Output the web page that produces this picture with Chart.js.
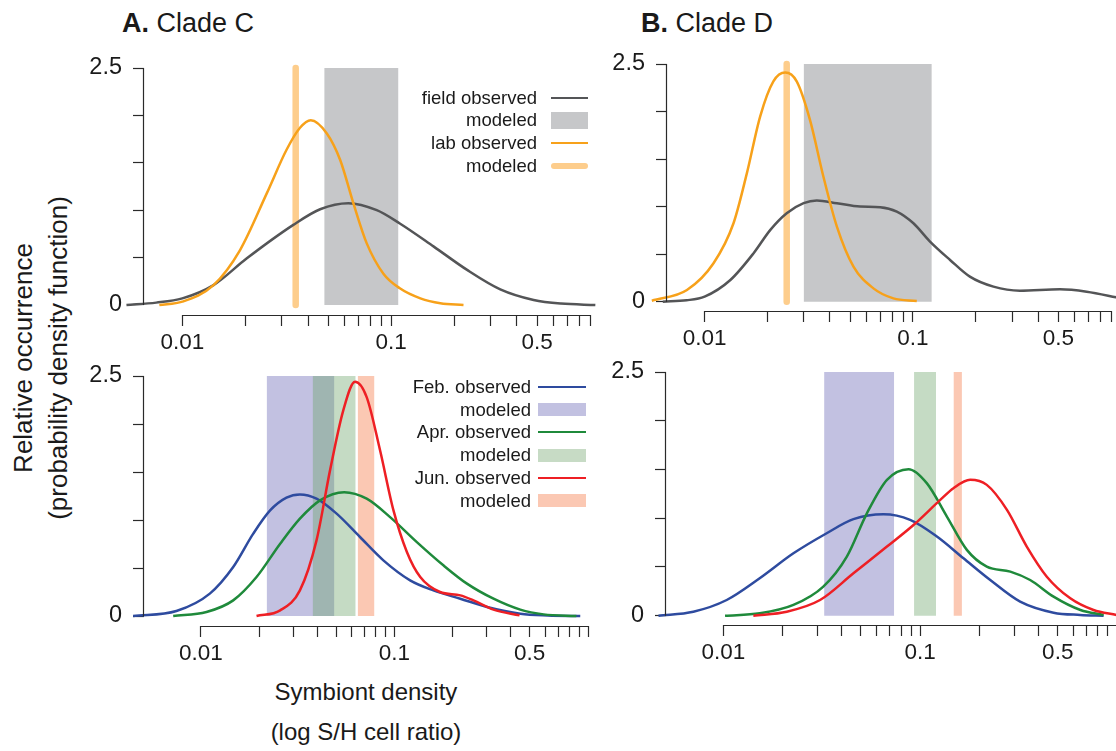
<!DOCTYPE html>
<html>
<head>
<meta charset="utf-8">
<title>Symbiont density distributions, clades C and D</title>
<script src="https://cdn.jsdelivr.net/npm/chart.js@4.4.1/dist/chart.umd.min.js"></script>
<style>
  html, body { margin:0; padding:0; background:#fff; }
  body { position:relative; width:1116px; height:751px; overflow:hidden;
         font-family:"Liberation Sans", Arial, Helvetica, sans-serif; color:#1a1a1a; }
  canvas { position:absolute; }
  .ptitle { position:absolute; font-size:27px; line-height:27px; white-space:nowrap; }
  #ytitle { position:absolute; width:440px; height:70px; left:-179px; top:323px;
            font-size:26px; line-height:35px; text-align:center; white-space:nowrap;
            transform:rotate(-90deg); }
  #xtitle { position:absolute; width:400px; left:166px; top:672px;
            font-size:24px; line-height:40px; text-align:center; white-space:nowrap; }
  .leg { position:absolute; font-size:18.5px; line-height:24px; white-space:nowrap; text-align:right; }
  .sym { position:absolute; }
</style>
</head>
<body>
<div class="ptitle" style="left:122px;top:10px"><b>A.</b> Clade C</div>
<div class="ptitle" style="left:641px;top:10px"><b>B.</b> Clade D</div>
<div id="ytitle">Relative occurrence<br>(probability density function)</div>
<div id="xtitle">Symbiont density<br>(log S/H cell ratio)</div>

<script>
// ---------- axis ticks ----------
const xTickValues   = [0.01,0.02,0.03,0.04,0.05,0.06,0.07,0.08,0.09,0.1,0.2,0.3,0.4,0.5,0.6,0.7,0.8,0.9];
const xTickValuesTo1 = [0.01,0.02,0.03,0.04,0.05,0.06,0.07,0.08,0.09,0.1,0.2,0.3,0.4,0.5,0.6,0.7,0.8,0.9,1];
const xTickLabels   = ['0.01','0.1','0.5'];
const yTickValues   = [0, 0.5, 1, 1.5, 2, 2.5];
const yTickLabels   = ['0', '', '', '', '', '2.5'];

// ---------- A. Clade C: field vs lab ----------
const cFieldX = [0.0054, 0.0075, 0.010, 0.0141, 0.0203, 0.034, 0.0457, 0.0624, 0.0853, 0.110, 0.160, 0.231, 0.333, 0.481, 0.65, 0.95];
const cFieldY = [0.0,    0.025,  0.07,  0.21,   0.49,   0.845, 1.01,   1.074,  1.0,    0.86,  0.616, 0.37,  0.165, 0.053, 0.015, 0.0];
const cLabX   = [0.00776, 0.010, 0.0141, 0.0189, 0.0254, 0.0316, 0.0366, 0.0412, 0.0492, 0.057, 0.066, 0.0764, 0.0918, 0.110, 0.138, 0.172, 0.222];
const cLabY   = [0.0,     0.035, 0.21,   0.58,   1.18,   1.64,   1.87,   1.95,   1.81,   1.53,  1.07,  0.65,   0.33,   0.176, 0.07,  0.018, 0.0];
const cFieldModeled = [0.0478, 0.1084];
const cLabModeled   = 0.0349;

// ---------- B. Clade D: field vs lab ----------
const dFieldX = [0.0063, 0.0082, 0.010, 0.0133, 0.0172, 0.0207, 0.0248, 0.0299, 0.0346, 0.0432, 0.0558, 0.0697, 0.0838, 0.1007, 0.121, 0.151, 0.188, 0.244, 0.327, 0.509, 0.684, 0.946, 1.0];
const dFieldY = [0.0,    0.015,  0.053, 0.228,  0.51,   0.755,  0.93,   1.036,  1.064,  1.036,  1.0,    0.994,  0.948,  0.825,  0.632, 0.439, 0.263, 0.158, 0.116, 0.13,  0.105, 0.046, 0.035];
const dLabX   = [0.00558, 0.00823, 0.01104, 0.01377, 0.01596, 0.0185, 0.0214, 0.0244, 0.0277, 0.0321, 0.0372, 0.0432, 0.0519, 0.0647, 0.0807, 0.1045];
const dLabY   = [0.01,    0.123,   0.404,   0.825,   1.35,    1.95,   2.317,  2.41,   2.317,  1.91,   1.317,  0.79,   0.369,  0.14,   0.035,  0.007];
const dFieldModeled = [0.0299, 0.1234];
const dLabModeled   = 0.0248;

// ---------- A (lower). Clade C by month ----------
const cFebX = [0.00447, 0.00748, 0.01113, 0.0147, 0.01866, 0.0228, 0.0277, 0.0325, 0.0396, 0.0503, 0.0664, 0.0877, 0.1205, 0.159, 0.219, 0.301, 0.447, 0.62, 0.912];
const cFebY = [0.0,     0.052,   0.233,   0.51,   0.858,   1.10,   1.233,  1.267,  1.222,  1.066,  0.823,  0.58,   0.372,  0.267, 0.18,  0.094, 0.024, 0.006, 0.0];
const cAprX = [0.0072, 0.0107, 0.0147, 0.0194, 0.0257, 0.0325, 0.0413, 0.055, 0.0719, 0.095, 0.1306, 0.179, 0.237, 0.325, 0.447, 0.59, 0.871];
const cAprY = [0.0,    0.042,  0.163,  0.406,  0.753,  1.014,  1.205,  1.29,  1.222,  1.03,  0.77,   0.528, 0.337, 0.18,  0.066, 0.017, 0.0];
const cJunX = [0.0194, 0.0257, 0.0325, 0.0396, 0.0465, 0.0544, 0.0626, 0.0719, 0.0843, 0.0989, 0.116, 0.136, 0.172, 0.219, 0.256, 0.325, 0.443];
const cJunY = [0.0,    0.059,  0.267,  0.788,  1.517,  2.14,   2.44,   2.28,   1.726,  1.10,   0.667, 0.406, 0.25,  0.215, 0.163, 0.066, 0.007];
const cFebModeled = [0.02188, 0.049];
const cAprModeled = [0.0378, 0.0631];
const cJunModeled = [0.0646, 0.0789];

// ---------- B (lower). Clade D by month ----------
const dFebX = [0.00468, 0.00704, 0.0104, 0.0153, 0.0227, 0.0335, 0.0458, 0.0651, 0.0889, 0.1216, 0.166, 0.227, 0.322, 0.476, 0.65, 0.855];
const dFebY = [0.0,     0.041,   0.161,  0.384,  0.64,   0.846,  0.99,   1.04,   0.983,  0.812,  0.589, 0.366, 0.144, 0.031, 0.008, 0.0];
const dAprX = [0.0102, 0.0153, 0.0227, 0.0322, 0.0424, 0.0536, 0.0678, 0.0873, 0.108, 0.1367, 0.1726, 0.218, 0.287, 0.362, 0.476, 0.652, 0.855];
const dAprY = [0.0,    0.024,  0.11,   0.298,  0.606,  1.05,   1.394,  1.503,  1.36,  1.017,  0.675,  0.503, 0.452, 0.366, 0.195, 0.058, 0.007];
const dJunX = [0.0142, 0.021, 0.031, 0.0458, 0.0678, 0.0925, 0.1265, 0.1476, 0.1795, 0.218, 0.276, 0.348, 0.44, 0.579, 0.76, 0.993];
const dJunY = [0.0,    0.041, 0.161, 0.435,  0.709,  0.93,   1.188,  1.308,  1.394,  1.342, 1.086, 0.709, 0.40, 0.178, 0.058, 0.007];
const dFebModeled = [0.0325, 0.0738];
const dAprModeled = [0.0931, 0.1205];
const dJunModeled = [0.1476, 0.163];

// ---------- colours ----------
const AXIS = '#2a2a2a', TEXT = '#1a1a1a';
const GRAY_LINE = '#545557', GRAY_BAND = '#c6c7c9';
const ORANGE = '#f7a11a', ORANGE_BAND = '#fdcd8c';
const BLUE = '#2e4b9f', GREEN = '#1f8a3b', RED = '#ee1f24';
const BLUE_BAND = '#c2c1e1', GREEN_BAND = 'rgba(105,162,103,0.39)', GREEN_BAND_SOLID = '#c7dbc5', RED_BAND = '#fbc8b3';

Chart.defaults.font.family = '"Liberation Sans", Arial, Helvetica, sans-serif';

const TOP = yTickValues[yTickValues.length - 1];
const pts = (xs, ys) => xs.map((x, i) => ({ x, y: ys[i] }));

function curve(xs, ys, color, order) {
  return { data: pts(xs, ys), borderColor: color, borderWidth: 2.5, pointRadius: 0,
           cubicInterpolationMode: 'monotone', fill: false, clip: false, order };
}
function band(range, color, order) {
  return { data: [{ x: range[0], y: TOP }, { x: range[1], y: TOP }], borderWidth: 0,
           borderColor: 'rgba(0,0,0,0)', backgroundColor: color, pointRadius: 0, fill: 'origin', order };
}
function marker(x, color, order) {
  return { data: [{ x, y: 0 }, { x, y: TOP }], borderColor: color, borderWidth: 6.5,
           borderCapStyle: 'round', pointRadius: 0, fill: false, clip: false, order };
}

// R-style axis lines: only between the first and last tick
const axisLines = {
  id: 'axisLines',
  afterDraw(chart) {
    const { ctx, chartArea, scales: { x, y } } = chart;
    ctx.save();
    ctx.strokeStyle = AXIS; ctx.lineWidth = 1.2;
    ctx.beginPath();
    ctx.moveTo(x.getPixelForValue(x.ticks[0].value), chartArea.bottom + 0.5);
    ctx.lineTo(x.getPixelForValue(x.ticks[x.ticks.length - 1].value), chartArea.bottom + 0.5);
    ctx.moveTo(chartArea.left - 0.5, y.getPixelForValue(y.ticks[0].value));
    ctx.lineTo(chartArea.left - 0.5, y.getPixelForValue(y.ticks[y.ticks.length - 1].value));
    ctx.stroke();
    ctx.restore();
  }
};

const panels = [
  { left: 144, right: 599.7, top: 68, bottom: 315, xMin: 0.006553, xMax: 1, yMin: -0.1055, ticks: xTickValues,
    datasets: [curve(cLabX, cLabY, ORANGE, 1), curve(cFieldX, cFieldY, GRAY_LINE, 2),
               marker(cLabModeled, ORANGE_BAND, 5), band(cFieldModeled, GRAY_BAND, 10)] },
  { left: 667, right: 1121, top: 64, bottom: 311, xMin: 0.0066, xMax: 1, yMin: -0.098, ticks: xTickValues,
    datasets: [curve(dLabX, dLabY, ORANGE, 1), curve(dFieldX, dFieldY, GRAY_LINE, 2),
               marker(dLabModeled, ORANGE_BAND, 5), band(dFieldModeled, GRAY_BAND, 10)] },
  { left: 144, right: 587.6, top: 376, bottom: 626, xMin: 0.005088, xMax: 1, yMin: -0.104, ticks: xTickValuesTo1,
    datasets: [curve(cJunX, cJunY, RED, 1), curve(cAprX, cAprY, GREEN, 2), curve(cFebX, cFebY, BLUE, 3),
               band(cJunModeled, RED_BAND, 10), band(cAprModeled, GREEN_BAND, 11), band(cFebModeled, BLUE_BAND, 12)] },
  { left: 666, right: 1116.7, top: 372, bottom: 625, xMin: 0.005112, xMax: 1, yMin: -0.0955, ticks: xTickValuesTo1,
    datasets: [curve(dJunX, dJunY, RED, 1), curve(dAprX, dAprY, GREEN, 2), curve(dFebX, dFebY, BLUE, 3),
               band(dJunModeled, RED_BAND, 10), band(dAprModeled, GREEN_BAND, 11), band(dFebModeled, BLUE_BAND, 12)] }
];

const Y_AXIS_W = 70, X_AXIS_H = 45, PAD_TOP = 34, PAD_RIGHT = 8;

panels.forEach(p => {
  const cv = document.createElement('canvas');
  const cl = Math.round(p.left) - Y_AXIS_W, ct = Math.round(p.top) - PAD_TOP;
  const w = Math.round(p.right) - cl + PAD_RIGHT, h = Math.round(p.bottom) + X_AXIS_H - ct;
  cv.width = w; cv.height = h;
  cv.style.left = cl + 'px'; cv.style.top = ct + 'px';
  cv.style.width = w + 'px'; cv.style.height = h + 'px';
  document.body.appendChild(cv);

  new Chart(cv, {
    type: 'line',
    data: { datasets: p.datasets },
    options: {
      responsive: false, animation: false, devicePixelRatio: 1, events: [],
      layout: { padding: { top: PAD_TOP, right: PAD_RIGHT, left: 0, bottom: 0 } },
      plugins: { legend: { display: false }, tooltip: { enabled: false } },
      scales: {
        x: {
          type: 'logarithmic', min: p.xMin, max: p.xMax, bounds: 'data',
          border: { display: false },
          grid: { drawOnChartArea: false, drawTicks: true, tickLength: 11, tickWidth: 1.2, tickColor: AXIS },
          ticks: { autoSkip: false, maxRotation: 0, minRotation: 0, padding: 3, color: TEXT, font: { size: 22.5 },
                   callback: v => { const s = String(v); return xTickLabels.includes(s) ? s : ''; } },
          afterBuildTicks: s => { s.ticks = p.ticks.map(v => ({ value: v })); },
          afterFit: s => { s.height = X_AXIS_H; }
        },
        y: {
          type: 'linear', min: p.yMin, max: TOP, bounds: 'data',
          border: { display: false },
          grid: { drawOnChartArea: false, drawTicks: true, tickLength: 11, tickWidth: 1.2, tickColor: AXIS },
          ticks: { padding: 11, color: TEXT, font: { size: 23.5 }, callback: (v, i) => yTickLabels[i] },
          afterBuildTicks: s => { s.ticks = yTickValues.map(v => ({ value: v })); },
          afterFit: s => { s.width = Y_AXIS_W; }
        }
      }
    },
    plugins: [axisLines]
  });
});

// ---------- legends ----------
function legend(spec) {
  spec.rows.forEach((r, i) => {
    const cy = spec.y0 + i * spec.dy;
    const t = document.createElement('div');
    t.className = 'leg';
    t.textContent = r.label;
    t.style.right = (1116 - spec.textRight) + 'px';
    t.style.top = (cy - 12) + 'px';
    document.body.appendChild(t);

    const s = document.createElement('div');
    s.className = 'sym';
    s.style.left = spec.symLeft + 'px';
    s.style.width = (spec.symRight - spec.symLeft) + 'px';
    s.style.height = r.h + 'px';
    s.style.top = (cy - r.h / 2) + 'px';
    s.style.background = r.color;
    if (r.round) s.style.borderRadius = (r.h / 2) + 'px';
    document.body.appendChild(s);
  });
}

legend({ textRight: 537, symLeft: 551, symRight: 588, y0: 97.5, dy: 22.8, rows: [
  { label: 'field observed', color: GRAY_LINE, h: 2 },
  { label: 'modeled', color: GRAY_BAND, h: 17 },
  { label: 'lab observed', color: ORANGE, h: 1.5 },
  { label: 'modeled', color: ORANGE_BAND, h: 6.5, round: true }
]});

legend({ textRight: 531, symLeft: 538, symRight: 586, y0: 387, dy: 22.7, rows: [
  { label: 'Feb. observed', color: BLUE, h: 2 },
  { label: 'modeled', color: BLUE_BAND, h: 13 },
  { label: 'Apr. observed', color: GREEN, h: 2 },
  { label: 'modeled', color: GREEN_BAND_SOLID, h: 13 },
  { label: 'Jun. observed', color: RED, h: 2 },
  { label: 'modeled', color: RED_BAND, h: 13 }
]});
</script>
</body>
</html>
